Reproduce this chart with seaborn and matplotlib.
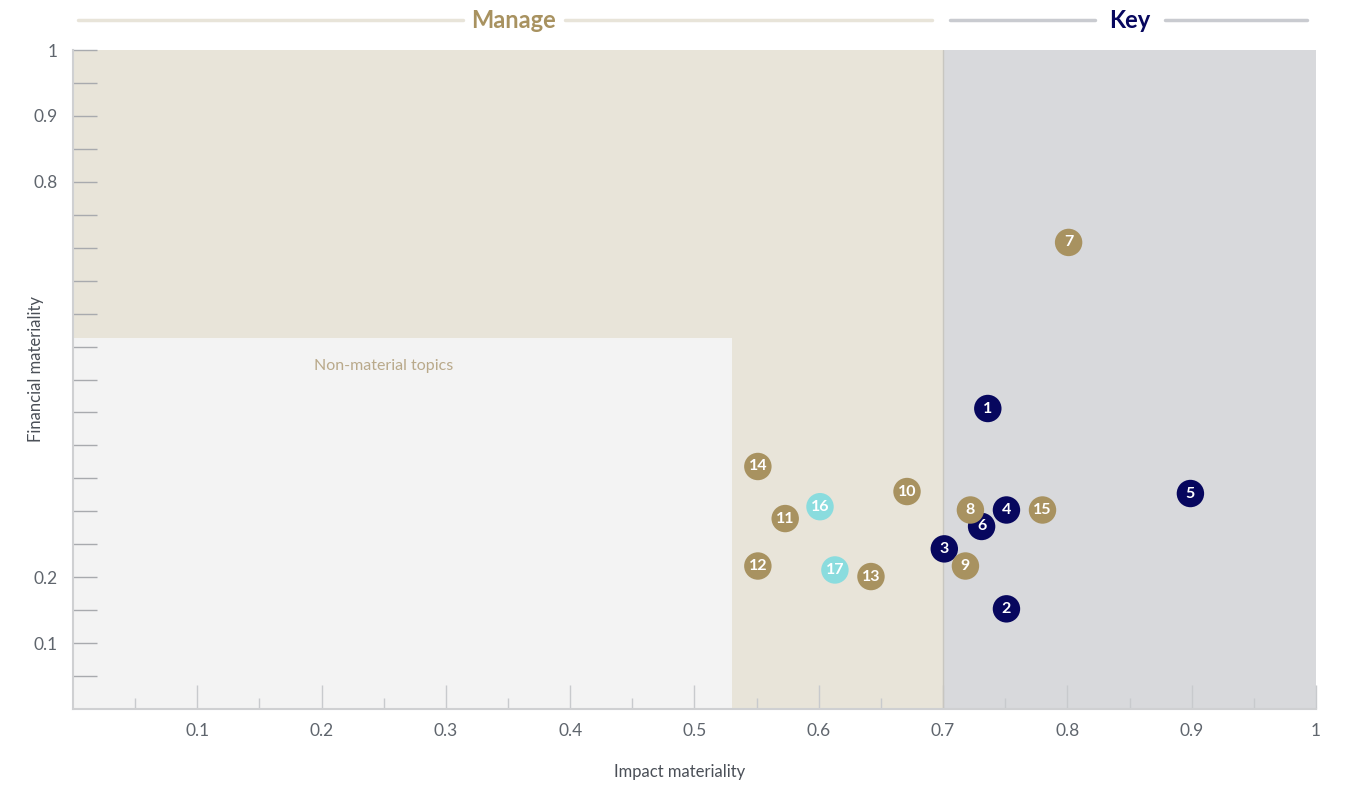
import numpy as np
import pandas as pd
import matplotlib
matplotlib.use("Agg")
import matplotlib.pyplot as plt
import seaborn as sns

# Topic data
topic_ids = ["1", "2", "3", "4", "5", "6", "7", "8", "9", "10", "11", "12", "13", "14", "15", "16", "17"]
impact = [0.736, 0.751, 0.701, 0.751, 0.899, 0.731, 0.801, 0.722, 0.718, 0.671, 0.573, 0.551, 0.642, 0.551, 0.780, 0.601, 0.613]
financial = [0.456, 0.152, 0.243, 0.302, 0.327, 0.277, 0.708, 0.302, 0.217, 0.330, 0.289, 0.217, 0.201, 0.368, 0.302, 0.307, 0.211]
group = ["key", "key", "key", "key", "key", "key", "manage", "manage", "manage", "manage",
         "manage", "manage", "manage", "manage", "manage", "other", "other"]

palette = {"key": "#07075e", "manage": "#a89260", "other": "#8adcde"}

df = pd.DataFrame({"topic": topic_ids, "impact": impact, "financial": financial, "group": group})

sns.set_theme(style="white")
plt.rcParams["font.family"] = ["Lato", "DejaVu Sans"]

fig = plt.figure(figsize=(13.54, 7.85), dpi=100)
ax = fig.add_axes([0.0539, 0.0968, 0.9180, 0.8395])

# background zones
ax.axvspan(0, 0.7, color="#e8e4d9", zorder=0, lw=0)
ax.axvspan(0.7, 1, color="#d8d9dc", zorder=0, lw=0)
ax.fill_between([0, 0.53], 0, 0.563, color="#f3f3f3", zorder=0.5, lw=0)
ax.axvline(0.7, color="#c8c6c0", lw=1, zorder=0.6)

sns.scatterplot(data=df, x="impact", y="financial", hue="group", palette=palette,
                s=390, edgecolor="none", legend=False, ax=ax, zorder=3)
for _, r in df.iterrows():
    ax.text(r["impact"], r["financial"], r["topic"], color="white", fontsize=11.5,
            fontweight="bold", ha="center", va="center", zorder=4)

ax.text(0.25, 0.521, "Non-material topics", color="#b9a98a", fontsize=11.5, ha="center", va="center")

ax.set_xlim(0, 1)
ax.set_ylim(0, 1)
ax.set_xticks(np.arange(0.1, 1.01, 0.1))
ax.set_xticklabels(["0.1", "0.2", "0.3", "0.4", "0.5", "0.6", "0.7", "0.8", "0.9", "1"])
ax.set_xticks(np.arange(0.05, 1.0, 0.1), minor=True)
ax.set_yticks(np.arange(0.05, 1.01, 0.05))
ax.set_yticklabels(["" if round(v, 2) not in (0.1, 0.2, 0.8, 0.9, 1.0) else ("1" if round(v, 2) == 1.0 else f"{v:.1f}")
                    for v in np.arange(0.05, 1.01, 0.05)])
ax.tick_params(axis="x", which="major", direction="in", length=17, width=1, color="#c8cacd",
               labelsize=12.5, labelcolor="#5f656d", pad=10, bottom=True)
ax.tick_params(axis="x", which="minor", direction="in", length=8, width=1, color="#c8cacd", bottom=True)
ax.tick_params(axis="y", direction="in", length=17, width=1, color="#a8aaae",
               labelsize=12.5, labelcolor="#5f656d", pad=11, left=True)

for side in ["top", "right"]:
    ax.spines[side].set_visible(False)
for side in ["left", "bottom"]:
    ax.spines[side].set_color("#cfd0d2")
    ax.spines[side].set_linewidth(1.5)

ax.set_xlabel("Impact materiality", fontsize=12, color="#4a4f57")
ax.set_ylabel("Financial materiality", fontsize=12, color="#4a4f57")
ax.xaxis.set_label_coords(0.488, -0.083)
ax.yaxis.set_label_coords(-0.023, 0.516)

# zone headers above the plot
hy = 1.0455
ax.plot([0.004, 0.3138], [hy, hy], color="#e8e4d9", lw=2.5, clip_on=False, transform=ax.transAxes)
ax.plot([0.3958, 0.691], [hy, hy], color="#e8e4d9", lw=2.5, clip_on=False, transform=ax.transAxes)
ax.text(0.3548, hy, "Manage", color="#a89260", fontsize=17, fontweight="bold",
        ha="center", va="center", transform=ax.transAxes)
ax.plot([0.7056, 0.822], [hy, hy], color="#c9cbd0", lw=2.5, clip_on=False, transform=ax.transAxes)
ax.plot([0.8785, 0.9928], [hy, hy], color="#c9cbd0", lw=2.5, clip_on=False, transform=ax.transAxes)
ax.text(0.8504, hy, "Key", color="#07075e", fontsize=17, fontweight="bold",
        ha="center", va="center", transform=ax.transAxes)

fig.savefig("out.png", dpi=100)
